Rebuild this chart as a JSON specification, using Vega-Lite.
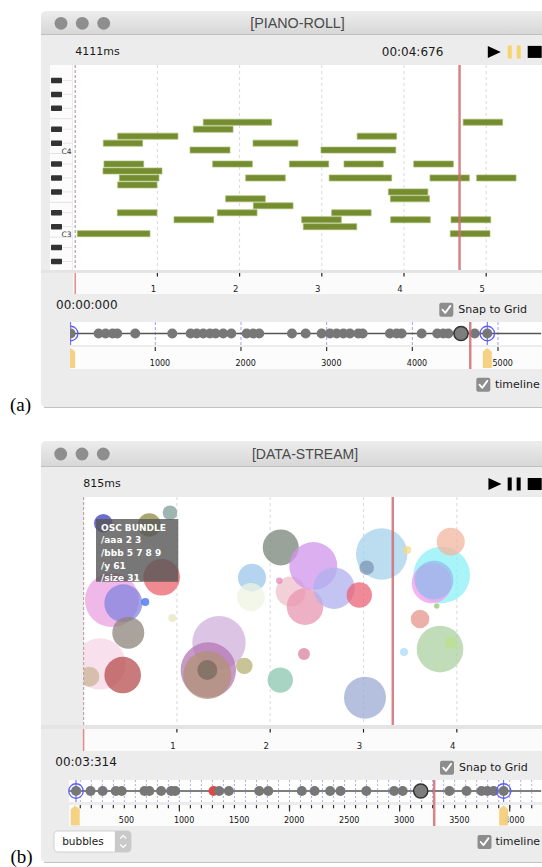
{
"$schema":"https://vega.github.io/schema/vega-lite/v6.json",
"background":"white",
"padding":{"top":11,"left":0,"right":0,"bottom":0},
"autosize":{"type":"pad"},
"spacing":0,
"bounds":"flush",
"config":{"view":{"stroke":null},"font":"DejaVu Sans","concat":{"spacing":0}},
"datasets":{
"notes":[{"p":64,"s":1.558,"e":2.39},{"p":64,"s":4.72,"e":5.2},{"p":63,"s":1.437,"e":1.92},{"p":62,"s":0.517,"e":1.25},{"p":62,"s":3.43,"e":3.91},{"p":61,"s":0.342,"e":0.82},{"p":61,"s":2.163,"e":2.71},{"p":60,"s":1.397,"e":1.883},{"p":60,"s":2.99,"e":3.9},{"p":58,"s":0.35,"e":0.833},{"p":58,"s":1.672,"e":2.155},{"p":58,"s":2.605,"e":3.084},{"p":58,"s":3.27,"e":3.748},{"p":58,"s":4.118,"e":4.6},{"p":57,"s":0.338,"e":1.056},{"p":56,"s":0.537,"e":1.019},{"p":56,"s":2.074,"e":2.556},{"p":56,"s":3.09,"e":3.85},{"p":56,"s":4.316,"e":4.795},{"p":56,"s":4.884,"e":5.363},{"p":55,"s":0.517,"e":0.995},{"p":54,"s":3.81,"e":4.29},{"p":53,"s":1.83,"e":2.313},{"p":53,"s":3.834,"e":4.31},{"p":52,"s":2.167,"e":2.65},{"p":51,"s":0.513,"e":0.995},{"p":51,"s":1.729,"e":2.212},{"p":51,"s":3.12,"e":3.6},{"p":50,"s":1.202,"e":1.685},{"p":50,"s":2.755,"e":3.237},{"p":50,"s":3.838,"e":4.32},{"p":50,"s":4.572,"e":5.055},{"p":49,"s":2.775,"e":3.425},{"p":48,"s":0.026,"e":0.91},{"p":48,"s":4.563,"e":5.046}],
"keys":[{"p":44},{"p":46},{"p":49},{"p":51},{"p":54},{"p":56},{"p":58},{"p":61},{"p":63},{"p":66},{"p":68},{"p":70}],
"sep":[{"p":47.5},{"p":52.5},{"p":59.5},{"p":64.5}],
"clab":[{"n":"C4","p":60},{"n":"C3","p":48}],
"beatsA":[{"b":1},{"b":2},{"b":3},{"b":4},{"b":5}],
"beatsB":[{"b":1},{"b":2},{"b":3},{"b":4}],
"gridA":[{"ms":1000},{"ms":2000},{"ms":3000},{"ms":4000},{"ms":5000}],
"gridB":[{"ms":100},{"ms":200},{"ms":300},{"ms":400},{"ms":500},{"ms":600},{"ms":700},{"ms":800},{"ms":900},{"ms":1000},{"ms":1100},{"ms":1200},{"ms":1300},{"ms":1400},{"ms":1500},{"ms":1600},{"ms":1700},{"ms":1800},{"ms":1900},{"ms":2000},{"ms":2100},{"ms":2200},{"ms":2300},{"ms":2400},{"ms":2500},{"ms":2600},{"ms":2700},{"ms":2800},{"ms":2900},{"ms":3000},{"ms":3100},{"ms":3200},{"ms":3300},{"ms":3400},{"ms":3500},{"ms":3600},{"ms":3700},{"ms":3800},{"ms":3900},{"ms":4000},{"ms":4100},{"ms":4200}],
"majB":[{"ms":1000},{"ms":2000},{"ms":3000},{"ms":4000}],
"labB":[{"ms":500},{"ms":1000},{"ms":1500},{"ms":2000},{"ms":2500},{"ms":3000},{"ms":3500},{"ms":4000}],
"evA":[{"ms":12},{"ms":338},{"ms":420},{"ms":502},{"ms":556},{"ms":766},{"ms":1198},{"ms":1412},{"ms":1483},{"ms":1560},{"ms":1638},{"ms":1704},{"ms":1793},{"ms":1887},{"ms":2066},{"ms":2143},{"ms":2213},{"ms":2595},{"ms":2755},{"ms":2941},{"ms":3039},{"ms":3117},{"ms":3195},{"ms":3272},{"ms":3369},{"ms":3420},{"ms":3739},{"ms":3817},{"ms":3875},{"ms":4109},{"ms":4291},{"ms":4361},{"ms":4420},{"ms":4728},{"ms":4875}],
"evB":[{"ms":61},{"ms":193},{"ms":303},{"ms":422},{"ms":476},{"ms":683},{"ms":727},{"ms":834},{"ms":925},{"ms":962},{"ms":1360},{"ms":1449},{"ms":1725},{"ms":1807},{"ms":2112},{"ms":2228},{"ms":2369},{"ms":2463},{"ms":2698},{"ms":2950},{"ms":3028},{"ms":3452},{"ms":3608},{"ms":3744},{"ms":3797},{"ms":3854},{"ms":3945}],
"cursA":[{"ms":12},{"ms":4875}],
"cursB":[{"ms":61},{"ms":3945}],
"flagsA":[{"ms":12},{"ms":4875}],
"flagsB":[{"ms":54},{"ms":3945}],
"bubbles":[{"id":"b10","t":0.176,"v":26.8,"size":51.4},{"id":"b11","t":0.061,"v":21.2,"size":20},{"id":"b12","t":0.419,"v":21.9,"size":36.6},{"id":"b5","t":0.304,"v":54.8,"size":54},{"id":"b6","t":0.426,"v":53.4,"size":38},{"id":"b7","t":0.661,"v":53.9,"size":8},{"id":"b8","t":0.479,"v":40.5,"size":32},{"id":"b9","t":0.951,"v":46.9,"size":8},{"id":"b1","t":0.211,"v":88.5,"size":18.6},{"id":"b2","t":0.704,"v":87.7,"size":23.4},{"id":"b3","t":0.926,"v":93.1,"size":14.6},{"id":"b4","t":0.837,"v":64.8,"size":36.6},{"id":"b13","t":1.451,"v":36.1,"size":53.4},{"id":"b14","t":1.337,"v":24.1,"size":55.4},{"id":"b15","t":1.326,"v":21.9,"size":48},{"id":"b16","t":1.326,"v":24.1,"size":20},{"id":"b17","t":1.722,"v":25.9,"size":16.6},{"id":"b18","t":2.108,"v":19.7,"size":25.4},{"id":"b19","t":2.362,"v":31.1,"size":12},{"id":"b20","t":3.016,"v":12.0,"size":42},{"id":"b23","t":1.805,"v":64.6,"size":28},{"id":"b24","t":1.794,"v":56.1,"size":28},{"id":"b22","t":2.22,"v":58.5,"size":30},{"id":"b21","t":2.373,"v":51.9,"size":36.6},{"id":"b28","t":2.113,"v":77.9,"size":36},{"id":"b29","t":2.098,"v":63.3,"size":6.6},{"id":"b27","t":2.462,"v":69.7,"size":48},{"id":"b26","t":2.684,"v":60.0,"size":41.4},{"id":"b25","t":2.955,"v":57.0,"size":25.4},{"id":"b30","t":3.195,"v":75.0,"size":51.4},{"id":"b31","t":3.034,"v":69.0,"size":14.6},{"id":"b32","t":3.469,"v":76.8,"size":8},{"id":"b34","t":3.838,"v":65.8,"size":56.6},{"id":"b35","t":3.731,"v":62.2,"size":40},{"id":"b36","t":3.756,"v":63.6,"size":38.6},{"id":"b33","t":3.935,"v":80.4,"size":28},{"id":"b37","t":3.785,"v":52.2,"size":5.4},{"id":"b38","t":3.606,"v":46.5,"size":18.6},{"id":"b39","t":3.82,"v":33.3,"size":46.6},{"id":"b40","t":3.935,"v":36.1,"size":12},{"id":"b41","t":3.434,"v":32.0,"size":8}]
},
"vconcat":[
{"width":542,"height":23,"data":{"values":[{}]},"layer":[
{"mark":{"type":"rect","cornerRadiusTopLeft":5,"color":{"gradient":"linear","x1":0,"y1":0,"x2":0,"y2":1,"stops":[{"offset":0,"color":"#ededed"},{"offset":1,"color":"#d7d7d7"}]}},"encoding":{"x":{"datum":-0.41606,"type":"quantitative","scale":{"domain":[-0.914842,5.678832],"nice":false,"zero":false},"axis":null},"x2":{"datum":5.678832}}},
{"mark":{"type":"point","shape":"circle","filled":true,"size":165,"color":"#8e8e8e","opacity":1,"yOffset":0.8},"encoding":{"x":{"datum":-0.17275,"type":"quantitative","scale":{"domain":[-0.914842,5.678832],"nice":false,"zero":false},"axis":null}}},
{"mark":{"type":"point","shape":"circle","filled":true,"size":165,"color":"#8e8e8e","opacity":1,"yOffset":0.8},"encoding":{"x":{"datum":0.08637,"type":"quantitative","scale":{"domain":[-0.914842,5.678832],"nice":false,"zero":false},"axis":null}}},
{"mark":{"type":"point","shape":"circle","filled":true,"size":165,"color":"#8e8e8e","opacity":1,"yOffset":0.8},"encoding":{"x":{"datum":0.34672,"type":"quantitative","scale":{"domain":[-0.914842,5.678832],"nice":false,"zero":false},"axis":null}}},
{"mark":{"type":"text","text":"[PIANO-ROLL]","font":"Liberation Sans","fontSize":14.3,"color":"#4a4a4a","align":"center","baseline":"middle","dy":1.5},"encoding":{"x":{"datum":2.70438,"type":"quantitative","scale":{"domain":[-0.914842,5.678832],"nice":false,"zero":false},"axis":null}}}
]},
{"width":542,"height":1,"data":{"values":[{}]},"mark":{"type":"rect","color":"#bfbfbf"},"encoding":{"x":{"datum":-0.41606,"type":"quantitative","scale":{"domain":[-0.914842,5.678832],"nice":false,"zero":false},"axis":null},"x2":{"datum":5.678832}}},
{"width":542,"height":30,"data":{"values":[{}]},"layer":[
{"mark":{"type":"rect","color":"#ececec"},"encoding":{"x":{"datum":-0.41606,"type":"quantitative","scale":{"domain":[-0.914842,5.678832],"nice":false,"zero":false},"axis":null},"x2":{"datum":5.678832}}},
{"mark":{"type":"text","text":"4111ms","align":"left","baseline":"middle","fontSize":11,"color":"#1a1a1a","dy":2.3},"encoding":{"x":{"datum":0,"type":"quantitative","scale":{"domain":[-0.914842,5.678832],"nice":false,"zero":false},"axis":null}}},
{"mark":{"type":"text","text":"00:04:676","align":"right","baseline":"middle","fontSize":12,"color":"#1a1a1a","dy":1.7},"encoding":{"x":{"datum":4.4781,"type":"quantitative","scale":{"domain":[-0.914842,5.678832],"nice":false,"zero":false},"axis":null}}},
{"mark":{"type":"point","shape":"M -1 -0.92 L 1 0 L -1 0.92 Z","size":169,"filled":true,"color":"#000000","opacity":1,"yOffset":1.9},"encoding":{"x":{"datum":5.0985,"type":"quantitative","scale":{"domain":[-0.914842,5.678832],"nice":false,"zero":false},"axis":null}}},
{"mark":{"type":"point","shape":"M -1 -1 H -0.38 V 1 H -1 Z M 0.38 -1 H 1 V 1 H 0.38 Z","size":169,"filled":true,"color":"#f8d36a","opacity":1,"yOffset":2},"encoding":{"x":{"datum":5.3406,"type":"quantitative","scale":{"domain":[-0.914842,5.678832],"nice":false,"zero":false},"axis":null}}},
{"mark":{"type":"point","shape":"M -1 -0.86 H 1 V 0.86 H -1 Z","size":196,"filled":true,"color":"#000000","opacity":1,"yOffset":1.9},"encoding":{"x":{"datum":5.59,"type":"quantitative","scale":{"domain":[-0.914842,5.678832],"nice":false,"zero":false},"axis":null}}}
]},
{"width":542,"height":205,"data":{"values":[{}]},"layer":[
{"mark":{"type":"rect","color":"#ececec"},"encoding":{"x":{"datum":-0.41606,"type":"quantitative","scale":{"domain":[-0.914842,5.678832],"nice":false,"zero":false},"axis":null},"x2":{"datum":5.678832}}},
{"mark":{"type":"rect","color":"#fcfcfc"},"encoding":{"x":{"datum":-0.30657,"type":"quantitative","scale":{"domain":[-0.914842,5.678832],"nice":false,"zero":false},"axis":null},"x2":{"datum":-0.03893}}},
{"data":{"name":"sep"},"mark":{"type":"rule","color":"#e2e2e2","strokeWidth":1},"encoding":{"x":{"datum":-0.30657,"type":"quantitative","scale":{"domain":[-0.914842,5.678832],"nice":false,"zero":false},"axis":null},"x2":{"datum":-0.03893},"y":{"field":"p","type":"quantitative","scale":{"domain":[43.5,71.5],"nice":false,"zero":false},"axis":null}}},
{"data":{"name":"keys"},"mark":{"type":"rule","color":"#e6e6e6","strokeWidth":1},"encoding":{"x":{"datum":-0.16058,"type":"quantitative","scale":{"domain":[-0.914842,5.678832],"nice":false,"zero":false},"axis":null},"x2":{"datum":-0.03893},"y":{"field":"p","type":"quantitative","scale":{"domain":[43.5,71.5],"nice":false,"zero":false},"axis":null}}},
{"data":{"name":"keys"},"mark":{"type":"bar","orient":"horizontal","height":5.5,"color":"#333333","cornerRadius":1},"encoding":{"x":{"datum":-0.2944,"type":"quantitative","scale":{"domain":[-0.914842,5.678832],"nice":false,"zero":false},"axis":null},"x2":{"datum":-0.16058},"y":{"field":"p","type":"quantitative","scale":{"domain":[43.5,71.5],"nice":false,"zero":false},"axis":null}}},
{"mark":{"type":"rect","color":"#ffffff"},"encoding":{"x":{"datum":-0.02676,"type":"quantitative","scale":{"domain":[-0.914842,5.678832],"nice":false,"zero":false},"axis":null},"x2":{"datum":5.678832}}},
{"data":{"name":"beatsA"},"mark":{"type":"rule","color":"#d9d9d9","strokeDash":[3,3],"strokeWidth":1},"encoding":{"x":{"field":"b","type":"quantitative","scale":{"domain":[-0.914842,5.678832],"nice":false,"zero":false},"axis":null}}},
{"mark":{"type":"rule","color":"#b89ca2","strokeDash":[3,2],"strokeWidth":1.2},"encoding":{"x":{"datum":0,"type":"quantitative","scale":{"domain":[-0.914842,5.678832],"nice":false,"zero":false},"axis":null}}},
{"data":{"name":"notes"},"mark":{"type":"bar","orient":"horizontal","height":6,"color":"#758c31","stroke":"#a3ba6a","strokeWidth":0.7},"encoding":{"x":{"field":"s","type":"quantitative","scale":{"domain":[-0.914842,5.678832],"nice":false,"zero":false},"axis":null},"x2":{"field":"e"},"y":{"field":"p","type":"quantitative","scale":{"domain":[43.5,71.5],"nice":false,"zero":false},"axis":null}}},
{"mark":{"type":"rule","color":"#cf6e73","strokeWidth":2.5,"opacity":0.85},"encoding":{"x":{"datum":4.676,"type":"quantitative","scale":{"domain":[-0.914842,5.678832],"nice":false,"zero":false},"axis":null}}},
{"data":{"name":"clab"},"mark":{"type":"text","align":"right","baseline":"middle","fontSize":7.5,"color":"#333333","dy":1.5},"encoding":{"text":{"field":"n"},"x":{"datum":-0.04501,"type":"quantitative","scale":{"domain":[-0.914842,5.678832],"nice":false,"zero":false},"axis":null},"y":{"field":"p","type":"quantitative","scale":{"domain":[43.5,71.5],"nice":false,"zero":false},"axis":null}}}
]},
{"width":542,"height":3,"data":{"values":[{}]},"mark":{"type":"rect","color":"#e4e4e4"},"encoding":{"x":{"datum":-0.41606,"type":"quantitative","scale":{"domain":[-0.914842,5.678832],"nice":false,"zero":false},"axis":null},"x2":{"datum":5.678832}}},
{"width":542,"height":21,"data":{"values":[{}]},"layer":[
{"mark":{"type":"rect","color":"#ececec"},"encoding":{"x":{"datum":-0.41606,"type":"quantitative","scale":{"domain":[-0.914842,5.678832],"nice":false,"zero":false},"axis":null},"x2":{"datum":5.678832}}},
{"mark":{"type":"rect","color":"#fbfbfb"},"encoding":{"x":{"datum":-0.02676,"type":"quantitative","scale":{"domain":[-0.914842,5.678832],"nice":false,"zero":false},"axis":null},"x2":{"datum":5.678832}}},
{"mark":{"type":"rule","color":"#e28c8c","strokeWidth":1.5},"encoding":{"x":{"datum":0,"type":"quantitative","scale":{"domain":[-0.914842,5.678832],"nice":false,"zero":false},"axis":null}}},
{"data":{"name":"beatsA"},"mark":{"type":"tick","size":3.5,"thickness":1.2,"color":"#222222","opacity":1,"yOffset":-8.75},"encoding":{"x":{"field":"b","type":"quantitative","scale":{"domain":[-0.914842,5.678832],"nice":false,"zero":false},"axis":null}}},
{"data":{"name":"beatsA"},"mark":{"type":"text","fontSize":8.5,"color":"#222222","align":"center","baseline":"middle","dx":-4,"dy":5.5},"encoding":{"x":{"field":"b","type":"quantitative","scale":{"domain":[-0.914842,5.678832],"nice":false,"zero":false},"axis":null},"text":{"field":"b","type":"quantitative","format":"d"}}}
]},
{"width":542,"height":28,"data":{"values":[{}]},"layer":[
{"mark":{"type":"rect","color":"#ececec"},"encoding":{"x":{"datum":-0.41606,"type":"quantitative","scale":{"domain":[-0.914842,5.678832],"nice":false,"zero":false},"axis":null},"x2":{"datum":5.678832}}},
{"mark":{"type":"text","text":"00:00:000","align":"left","baseline":"middle","fontSize":12,"color":"#1a1a1a","dy":-3},"encoding":{"x":{"datum":-0.2336,"type":"quantitative","scale":{"domain":[-0.914842,5.678832],"nice":false,"zero":false},"axis":null}}},
{"mark":{"type":"point","shape":"M -0.72 -1 H 0.72 Q 1 -1 1 -0.72 V 0.72 Q 1 1 0.72 1 H -0.72 Q -1 1 -1 0.72 V -0.72 Q -1 -1 -0.72 -1 Z","size":196,"filled":true,"color":"#8d8d8d","opacity":1,"yOffset":1.7},"encoding":{"x":{"datum":4.5146,"type":"quantitative","scale":{"domain":[-0.914842,5.678832],"nice":false,"zero":false},"axis":null}}},
{"mark":{"type":"point","shape":"M -0.55 0 L -0.15 0.45 L 0.58 -0.55","size":196,"filled":false,"color":"#ffffff","strokeWidth":1.8,"strokeCap":"round","strokeJoin":"round","opacity":1,"yOffset":1.7},"encoding":{"x":{"datum":4.5146,"type":"quantitative","scale":{"domain":[-0.914842,5.678832],"nice":false,"zero":false},"axis":null}}},
{"mark":{"type":"text","text":"Snap to Grid","align":"left","baseline":"middle","fontSize":11,"color":"#1a1a1a","dy":1.7},"encoding":{"x":{"datum":4.6606,"type":"quantitative","scale":{"domain":[-0.914842,5.678832],"nice":false,"zero":false},"axis":null}}}
]},
{"width":542,"height":23,"data":{"values":[{}]},"layer":[
{"mark":{"type":"rect","color":"#ececec"},"encoding":{"x":{"datum":-334.1,"type":"quantitative","scale":{"domain":[-812.66,5513.6],"nice":false,"zero":false},"axis":null},"x2":{"datum":5513.6}}},
{"mark":{"type":"rect","color":"#ffffff"},"encoding":{"x":{"datum":-15,"type":"quantitative","scale":{"domain":[-812.66,5513.6],"nice":false,"zero":false},"axis":null},"x2":{"datum":5513.6}}},
{"data":{"name":"gridA"},"mark":{"type":"rule","color":"#a0a0ee","strokeDash":[3,2],"strokeWidth":1},"encoding":{"x":{"field":"ms","type":"quantitative","scale":{"domain":[-812.66,5513.6],"nice":false,"zero":false},"axis":null}}},
{"data":{"name":"cursA"},"mark":{"type":"rule","color":"#5b5bff","strokeWidth":1},"encoding":{"x":{"field":"ms","type":"quantitative","scale":{"domain":[-812.66,5513.6],"nice":false,"zero":false},"axis":null}}},
{"mark":{"type":"rule","color":"#555555","strokeWidth":1.5},"encoding":{"x":{"datum":12,"type":"quantitative","scale":{"domain":[-812.66,5513.6],"nice":false,"zero":false},"axis":null},"x2":{"datum":5504.2}}},
{"data":{"name":"evA"},"mark":{"type":"point","shape":"circle","filled":true,"size":100,"color":"#777777","opacity":1},"encoding":{"x":{"field":"ms","type":"quantitative","scale":{"domain":[-812.66,5513.6],"nice":false,"zero":false},"axis":null}}},
{"mark":{"type":"point","shape":"circle","filled":true,"fill":"#7d7d7d","stroke":"#333333","strokeWidth":1.5,"size":200,"opacity":1},"encoding":{"x":{"datum":4568,"type":"quantitative","scale":{"domain":[-812.66,5513.6],"nice":false,"zero":false},"axis":null}}},
{"data":{"name":"cursA"},"mark":{"type":"point","shape":"circle","filled":false,"color":"#5b5bff","strokeWidth":1.3,"size":210,"opacity":1},"encoding":{"x":{"field":"ms","type":"quantitative","scale":{"domain":[-812.66,5513.6],"nice":false,"zero":false},"axis":null}}},
{"mark":{"type":"rule","color":"#cf6e73","strokeWidth":2.5,"opacity":0.85},"encoding":{"x":{"datum":4676,"type":"quantitative","scale":{"domain":[-812.66,5513.6],"nice":false,"zero":false},"axis":null}}},
{"mark":{"type":"rect","color":"#ececec"},"encoding":{"x":{"datum":-334.1,"type":"quantitative","scale":{"domain":[-812.66,5513.6],"nice":false,"zero":false},"axis":null},"x2":{"datum":5}}}
]},
{"width":542,"height":2,"data":{"values":[{}]},"layer":[
{"mark":{"type":"rect","color":"#ececec"},"encoding":{"x":{"datum":-334.1,"type":"quantitative","scale":{"domain":[-812.66,5513.6],"nice":false,"zero":false},"axis":null},"x2":{"datum":5513.6}}},
{"mark":{"type":"rule","color":"#cf6e73","strokeWidth":2.5,"opacity":0.85},"encoding":{"x":{"datum":4676,"type":"quantitative","scale":{"domain":[-812.66,5513.6],"nice":false,"zero":false},"axis":null}}}
]},
{"width":542,"height":22,"data":{"values":[{}]},"layer":[
{"mark":{"type":"rect","color":"#ececec"},"encoding":{"x":{"datum":-334.1,"type":"quantitative","scale":{"domain":[-812.66,5513.6],"nice":false,"zero":false},"axis":null},"x2":{"datum":5513.6}}},
{"mark":{"type":"rect","color":"#fcfcfc"},"encoding":{"x":{"datum":-15,"type":"quantitative","scale":{"domain":[-812.66,5513.6],"nice":false,"zero":false},"axis":null},"x2":{"datum":5513.6}}},
{"data":{"name":"gridA"},"mark":{"type":"tick","size":4,"thickness":1.2,"color":"#333333","opacity":1,"yOffset":-9},"encoding":{"x":{"field":"ms","type":"quantitative","scale":{"domain":[-812.66,5513.6],"nice":false,"zero":false},"axis":null}}},
{"data":{"name":"gridA"},"mark":{"type":"text","fontSize":8,"color":"#111111","align":"left","baseline":"middle","dx":-5.5,"dy":6},"encoding":{"x":{"field":"ms","type":"quantitative","scale":{"domain":[-812.66,5513.6],"nice":false,"zero":false},"axis":null},"text":{"field":"ms","type":"quantitative","format":"d"}}},
{"mark":{"type":"rule","color":"#cf6e73","strokeWidth":2.5,"opacity":0.85},"encoding":{"x":{"datum":4676,"type":"quantitative","scale":{"domain":[-812.66,5513.6],"nice":false,"zero":false},"axis":null}}},
{"data":{"name":"flagsA"},"mark":{"type":"point","shape":"M -0.45 -0.62 L 0 -1 L 0.45 -0.62 L 0.45 1 L -0.45 1 Z","size":400,"filled":true,"color":"#f4d07c","opacity":0.95},"encoding":{"x":{"field":"ms","type":"quantitative","scale":{"domain":[-812.66,5513.6],"nice":false,"zero":false},"axis":null}}},
{"mark":{"type":"rect","color":"#ececec"},"encoding":{"x":{"datum":-334.1,"type":"quantitative","scale":{"domain":[-812.66,5513.6],"nice":false,"zero":false},"axis":null},"x2":{"datum":5}}}
]},
{"width":542,"height":38,"data":{"values":[{}]},"layer":[
{"mark":{"type":"rect","color":"#ececec","cornerRadiusBottomLeft":5},"encoding":{"x":{"datum":-0.41606,"type":"quantitative","scale":{"domain":[-0.914842,5.678832],"nice":false,"zero":false},"axis":null},"x2":{"datum":5.678832}}},
{"mark":{"type":"point","shape":"M -0.72 -1 H 0.72 Q 1 -1 1 -0.72 V 0.72 Q 1 1 0.72 1 H -0.72 Q -1 1 -1 0.72 V -0.72 Q -1 -1 -0.72 -1 Z","size":196,"filled":true,"color":"#8d8d8d","opacity":1,"yOffset":-3.3},"encoding":{"x":{"datum":4.9647,"type":"quantitative","scale":{"domain":[-0.914842,5.678832],"nice":false,"zero":false},"axis":null}}},
{"mark":{"type":"point","shape":"M -0.55 0 L -0.15 0.45 L 0.58 -0.55","size":196,"filled":false,"color":"#ffffff","strokeWidth":1.8,"strokeCap":"round","strokeJoin":"round","opacity":1,"yOffset":-3.3},"encoding":{"x":{"datum":4.9647,"type":"quantitative","scale":{"domain":[-0.914842,5.678832],"nice":false,"zero":false},"axis":null}}},
{"mark":{"type":"text","text":"timeline","align":"left","baseline":"middle","fontSize":11,"color":"#1a1a1a","dy":-3.3},"encoding":{"x":{"datum":5.1071,"type":"quantitative","scale":{"domain":[-0.914842,5.678832],"nice":false,"zero":false},"axis":null}}}
]},
{"width":542,"height":1,"data":{"values":[{}]},"mark":{"type":"rect","color":"#c2c2c2"},"encoding":{"x":{"datum":-0.37956,"type":"quantitative","scale":{"domain":[-0.914842,5.678832],"nice":false,"zero":false},"axis":null},"x2":{"datum":5.678832}}},
{"width":542,"height":33,"data":{"values":[{}]},"mark":{"type":"text","text":"(a)","align":"left","baseline":"middle","font":"Liberation Serif","fontSize":19,"color":"#000000","dy":-19.5},"encoding":{"x":{"datum":-0.79319,"type":"quantitative","scale":{"domain":[-0.914842,5.678832],"nice":false,"zero":false},"axis":null}}},
{"width":542,"height":25,"data":{"values":[{}]},"layer":[
{"mark":{"type":"rect","cornerRadiusTopLeft":5,"color":{"gradient":"linear","x1":0,"y1":0,"x2":0,"y2":1,"stops":[{"offset":0,"color":"#ededed"},{"offset":1,"color":"#d7d7d7"}]}},"encoding":{"x":{"datum":-0.45659,"type":"quantitative","scale":{"domain":[-0.896034,4.913183],"nice":false,"zero":false},"axis":null},"x2":{"datum":4.913183}}},
{"mark":{"type":"point","shape":"circle","filled":true,"size":165,"color":"#8e8e8e","opacity":1,"yOffset":0.5},"encoding":{"x":{"datum":-0.2454,"type":"quantitative","scale":{"domain":[-0.896034,4.913183],"nice":false,"zero":false},"axis":null}}},
{"mark":{"type":"point","shape":"circle","filled":true,"size":165,"color":"#8e8e8e","opacity":1,"yOffset":0.5},"encoding":{"x":{"datum":-0.0171,"type":"quantitative","scale":{"domain":[-0.896034,4.913183],"nice":false,"zero":false},"axis":null}}},
{"mark":{"type":"point","shape":"circle","filled":true,"size":165,"color":"#8e8e8e","opacity":1,"yOffset":0.5},"encoding":{"x":{"datum":0.2111,"type":"quantitative","scale":{"domain":[-0.896034,4.913183],"nice":false,"zero":false},"axis":null}}},
{"mark":{"type":"text","text":"[DATA-STREAM]","font":"Liberation Sans","fontSize":14,"color":"#4a4a4a","align":"center","baseline":"middle","dy":1.5},"encoding":{"x":{"datum":2.373,"type":"quantitative","scale":{"domain":[-0.896034,4.913183],"nice":false,"zero":false},"axis":null}}}
]},
{"width":542,"height":1,"data":{"values":[{}]},"mark":{"type":"rect","color":"#bfbfbf"},"encoding":{"x":{"datum":-0.45659,"type":"quantitative","scale":{"domain":[-0.896034,4.913183],"nice":false,"zero":false},"axis":null},"x2":{"datum":4.913183}}},
{"width":542,"height":30,"data":{"values":[{}]},"layer":[
{"mark":{"type":"rect","color":"#ececec"},"encoding":{"x":{"datum":-0.45659,"type":"quantitative","scale":{"domain":[-0.896034,4.913183],"nice":false,"zero":false},"axis":null},"x2":{"datum":4.913183}}},
{"mark":{"type":"text","text":"815ms","align":"left","baseline":"middle","fontSize":11,"color":"#1a1a1a","dy":2},"encoding":{"x":{"datum":-0.003,"type":"quantitative","scale":{"domain":[-0.896034,4.913183],"nice":false,"zero":false},"axis":null}}},
{"mark":{"type":"point","shape":"M -1 -0.92 L 1 0 L -1 0.92 Z","size":169,"filled":true,"color":"#000000","opacity":1,"yOffset":2},"encoding":{"x":{"datum":4.409,"type":"quantitative","scale":{"domain":[-0.896034,4.913183],"nice":false,"zero":false},"axis":null}}},
{"mark":{"type":"point","shape":"M -1 -1 H -0.38 V 1 H -1 Z M 0.38 -1 H 1 V 1 H 0.38 Z","size":169,"filled":true,"color":"#000000","opacity":1,"yOffset":2},"encoding":{"x":{"datum":4.615,"type":"quantitative","scale":{"domain":[-0.896034,4.913183],"nice":false,"zero":false},"axis":null}}},
{"mark":{"type":"point","shape":"M -1 -0.86 H 1 V 0.86 H -1 Z","size":196,"filled":true,"color":"#000000","opacity":1,"yOffset":2},"encoding":{"x":{"datum":4.835,"type":"quantitative","scale":{"domain":[-0.896034,4.913183],"nice":false,"zero":false},"axis":null}}}
]},
{"width":542,"height":228,"data":{"values":[{}]},"layer":[
{"mark":{"type":"rect","color":"#ececec"},"encoding":{"x":{"datum":-0.45659,"type":"quantitative","scale":{"domain":[-0.896034,4.913183],"nice":false,"zero":false},"axis":null},"x2":{"datum":4.913183}}},
{"mark":{"type":"rect","color":"#ffffff"},"encoding":{"x":{"datum":0,"type":"quantitative","scale":{"domain":[-0.896034,4.913183],"nice":false,"zero":false},"axis":null},"x2":{"datum":4.913183}}},
{"data":{"name":"beatsB"},"mark":{"type":"rule","color":"#d9d9d9","strokeDash":[3,3],"strokeWidth":1},"encoding":{"x":{"field":"b","type":"quantitative","scale":{"domain":[-0.896034,4.913183],"nice":false,"zero":false},"axis":null}}},
{"data":{"name":"bubbles"},"mark":{"type":"circle","opacity":0.75},"encoding":{"x":{"field":"t","type":"quantitative","scale":{"domain":[-0.896034,4.913183],"nice":false,"zero":false},"axis":null},"y":{"field":"v","type":"quantitative","scale":{"domain":[0,100],"nice":false,"zero":false},"axis":null},"size":{"field":"size","type":"quantitative","scale":{"type":"pow","exponent":2,"domain":[0,60],"range":[0,3600]},"legend":null},"color":{"field":"id","type":"nominal","legend":null,"scale":{"domain":["b1","b2","b3","b4","b5","b6","b7","b8","b9","b10","b11","b12","b13","b14","b15","b16","b17","b18","b19","b20","b21","b22","b23","b24","b25","b26","b27","b28","b29","b30","b31","b32","b33","b34","b35","b36","b37","b38","b39","b40","b41"],"range":["#3c3cbb","#8b8b40","#7f9c96","#e8636b","#eba0e0","#8484e0","#3f6af2","#8e847b","#e6e4c3","#f6d6e6","#cbb696","#b74e4e","#d0b0db","#b676b6","#b09376","#776a5d","#b6b076","#8bc6b0","#db809b","#9babd3","#e896b0","#eec0cb","#9bc6eb","#eef4e3","#eb6376","#b0b0ee","#d096eb","#788478","#e08bb6","#a6d0eb","#7b96b6","#f6db80","#f3b6a0","#8bf0f6","#f09bee","#96bbeb","#8bcb6b","#e6968b","#abd0a0","#bbe38b","#abdbf6"]}}}},
{"mark":{"type":"rect","color":"#ececec"},"encoding":{"x":{"datum":-0.45659,"type":"quantitative","scale":{"domain":[-0.896034,4.913183],"nice":false,"zero":false},"axis":null},"x2":{"datum":0}}},
{"mark":{"type":"rule","color":"#c2a3ab","strokeDash":[3,2],"strokeWidth":1.2},"encoding":{"x":{"datum":0,"type":"quantitative","scale":{"domain":[-0.896034,4.913183],"nice":false,"zero":false},"axis":null}}},
{"mark":{"type":"rule","color":"#cf6e73","strokeWidth":2.5,"opacity":0.85},"encoding":{"x":{"datum":3.314,"type":"quantitative","scale":{"domain":[-0.896034,4.913183],"nice":false,"zero":false},"axis":null}}},
{"mark":{"type":"rect","color":"#555555","opacity":0.8},"encoding":{"x":{"datum":0.1329,"type":"quantitative","scale":{"domain":[-0.896034,4.913183],"nice":false,"zero":false},"axis":null},"x2":{"datum":1.015},"y":{"datum":90.35,"type":"quantitative","scale":{"domain":[0,100],"nice":false,"zero":false},"axis":null},"y2":{"datum":62.85}}},
{"mark":{"type":"text","text":["OSC BUNDLE","/aaa 2 3","/bbb 5 7 8 9","/y 61","/size 31"],"align":"left","baseline":"top","lineHeight":12.7,"fontSize":9,"fontWeight":"bold","color":"#ffffff"},"encoding":{"x":{"datum":0.1865,"type":"quantitative","scale":{"domain":[-0.896034,4.913183],"nice":false,"zero":false},"axis":null},"y":{"datum":88.3,"type":"quantitative","scale":{"domain":[0,100],"nice":false,"zero":false},"axis":null}}}
]},
{"width":542,"height":4,"data":{"values":[{}]},"mark":{"type":"rect","color":"#e4e4e4"},"encoding":{"x":{"datum":-0.45659,"type":"quantitative","scale":{"domain":[-0.896034,4.913183],"nice":false,"zero":false},"axis":null},"x2":{"datum":4.913183}}},
{"width":542,"height":22,"data":{"values":[{}]},"layer":[
{"mark":{"type":"rect","color":"#ececec"},"encoding":{"x":{"datum":-0.45659,"type":"quantitative","scale":{"domain":[-0.896034,4.913183],"nice":false,"zero":false},"axis":null},"x2":{"datum":4.913183}}},
{"mark":{"type":"rect","color":"#fbfbfb"},"encoding":{"x":{"datum":0,"type":"quantitative","scale":{"domain":[-0.896034,4.913183],"nice":false,"zero":false},"axis":null},"x2":{"datum":4.913183}}},
{"mark":{"type":"rule","color":"#e28c8c","strokeWidth":1.5},"encoding":{"x":{"datum":0,"type":"quantitative","scale":{"domain":[-0.896034,4.913183],"nice":false,"zero":false},"axis":null}}},
{"data":{"name":"beatsB"},"mark":{"type":"tick","size":3.5,"thickness":1.2,"color":"#222222","opacity":1,"yOffset":-9.25},"encoding":{"x":{"field":"b","type":"quantitative","scale":{"domain":[-0.896034,4.913183],"nice":false,"zero":false},"axis":null}}},
{"data":{"name":"beatsB"},"mark":{"type":"text","fontSize":8.5,"color":"#222222","align":"center","baseline":"middle","dx":-4,"dy":6},"encoding":{"x":{"field":"b","type":"quantitative","scale":{"domain":[-0.896034,4.913183],"nice":false,"zero":false},"axis":null},"text":{"field":"b","type":"quantitative","format":"d"}}}
]},
{"width":542,"height":29,"data":{"values":[{}]},"layer":[
{"mark":{"type":"rect","color":"#ececec"},"encoding":{"x":{"datum":-0.45659,"type":"quantitative","scale":{"domain":[-0.896034,4.913183],"nice":false,"zero":false},"axis":null},"x2":{"datum":4.913183}}},
{"mark":{"type":"text","text":"00:03:314","align":"left","baseline":"middle","fontSize":12,"color":"#1a1a1a","dy":-3.3},"encoding":{"x":{"datum":-0.3033,"type":"quantitative","scale":{"domain":[-0.896034,4.913183],"nice":false,"zero":false},"axis":null}}},
{"mark":{"type":"point","shape":"M -0.72 -1 H 0.72 Q 1 -1 1 -0.72 V 0.72 Q 1 1 0.72 1 H -0.72 Q -1 1 -1 0.72 V -0.72 Q -1 -1 -0.72 -1 Z","size":196,"filled":true,"color":"#8d8d8d","opacity":1,"yOffset":2.2},"encoding":{"x":{"datum":3.895,"type":"quantitative","scale":{"domain":[-0.896034,4.913183],"nice":false,"zero":false},"axis":null}}},
{"mark":{"type":"point","shape":"M -0.55 0 L -0.15 0.45 L 0.58 -0.55","size":196,"filled":false,"color":"#ffffff","strokeWidth":1.8,"strokeCap":"round","strokeJoin":"round","opacity":1,"yOffset":2.2},"encoding":{"x":{"datum":3.895,"type":"quantitative","scale":{"domain":[-0.896034,4.913183],"nice":false,"zero":false},"axis":null}}},
{"mark":{"type":"text","text":"Snap to Grid","align":"left","baseline":"middle","fontSize":11,"color":"#1a1a1a","dy":2.2},"encoding":{"x":{"datum":4.024,"type":"quantitative","scale":{"domain":[-0.896034,4.913183],"nice":false,"zero":false},"axis":null}}}
]},
{"width":542,"height":22,"data":{"values":[{}]},"layer":[
{"mark":{"type":"rect","color":"#ececec"},"encoding":{"x":{"datum":-257.04,"type":"quantitative","scale":{"domain":[-629.43,4293.37],"nice":false,"zero":false},"axis":null},"x2":{"datum":4293.37}}},
{"mark":{"type":"rect","color":"#ffffff"},"encoding":{"x":{"datum":-2,"type":"quantitative","scale":{"domain":[-629.43,4293.37],"nice":false,"zero":false},"axis":null},"x2":{"datum":4293.37}}},
{"data":{"name":"gridB"},"mark":{"type":"rule","color":"#aab0f0","strokeDash":[2,2],"strokeWidth":1},"encoding":{"x":{"field":"ms","type":"quantitative","scale":{"domain":[-629.43,4293.37],"nice":false,"zero":false},"axis":null}}},
{"data":{"name":"cursB"},"mark":{"type":"rule","color":"#5b5bff","strokeWidth":1},"encoding":{"x":{"field":"ms","type":"quantitative","scale":{"domain":[-629.43,4293.37],"nice":false,"zero":false},"axis":null}}},
{"mark":{"type":"rule","color":"#555555","strokeWidth":1.5},"encoding":{"x":{"datum":0,"type":"quantitative","scale":{"domain":[-629.43,4293.37],"nice":false,"zero":false},"axis":null},"x2":{"datum":4286.1}}},
{"mark":{"type":"point","shape":"circle","filled":true,"size":100,"color":"#e04848","opacity":1},"encoding":{"x":{"datum":1310,"type":"quantitative","scale":{"domain":[-629.43,4293.37],"nice":false,"zero":false},"axis":null}}},
{"data":{"name":"evB"},"mark":{"type":"point","shape":"circle","filled":true,"size":100,"color":"#777777","opacity":1},"encoding":{"x":{"field":"ms","type":"quantitative","scale":{"domain":[-629.43,4293.37],"nice":false,"zero":false},"axis":null}}},
{"mark":{"type":"point","shape":"circle","filled":true,"fill":"#7d7d7d","stroke":"#333333","strokeWidth":1.5,"size":200,"opacity":1},"encoding":{"x":{"datum":3192,"type":"quantitative","scale":{"domain":[-629.43,4293.37],"nice":false,"zero":false},"axis":null}}},
{"data":{"name":"cursB"},"mark":{"type":"point","shape":"circle","filled":false,"color":"#5b5bff","strokeWidth":1.3,"size":210,"opacity":1},"encoding":{"x":{"field":"ms","type":"quantitative","scale":{"domain":[-629.43,4293.37],"nice":false,"zero":false},"axis":null}}},
{"mark":{"type":"rule","color":"#cf6e73","strokeWidth":2.5,"opacity":0.85},"encoding":{"x":{"datum":3314,"type":"quantitative","scale":{"domain":[-629.43,4293.37],"nice":false,"zero":false},"axis":null}}}
]},
{"width":542,"height":3,"data":{"values":[{}]},"layer":[
{"mark":{"type":"rect","color":"#ececec"},"encoding":{"x":{"datum":-257.04,"type":"quantitative","scale":{"domain":[-629.43,4293.37],"nice":false,"zero":false},"axis":null},"x2":{"datum":4293.37}}},
{"mark":{"type":"rule","color":"#cf6e73","strokeWidth":2.5,"opacity":0.85},"encoding":{"x":{"datum":3314,"type":"quantitative","scale":{"domain":[-629.43,4293.37],"nice":false,"zero":false},"axis":null}}}
]},
{"width":542,"height":21,"data":{"values":[{}]},"layer":[
{"mark":{"type":"rect","color":"#ececec"},"encoding":{"x":{"datum":-257.04,"type":"quantitative","scale":{"domain":[-629.43,4293.37],"nice":false,"zero":false},"axis":null},"x2":{"datum":4293.37}}},
{"mark":{"type":"rect","color":"#fcfcfc"},"encoding":{"x":{"datum":-2,"type":"quantitative","scale":{"domain":[-629.43,4293.37],"nice":false,"zero":false},"axis":null},"x2":{"datum":4293.37}}},
{"data":{"name":"gridB"},"mark":{"type":"tick","size":3.3,"thickness":1.2,"color":"#333333","opacity":1,"yOffset":-8.85},"encoding":{"x":{"field":"ms","type":"quantitative","scale":{"domain":[-629.43,4293.37],"nice":false,"zero":false},"axis":null}}},
{"data":{"name":"majB"},"mark":{"type":"tick","size":6.5,"thickness":1.2,"color":"#333333","opacity":1,"yOffset":-7.25},"encoding":{"x":{"field":"ms","type":"quantitative","scale":{"domain":[-629.43,4293.37],"nice":false,"zero":false},"axis":null}}},
{"data":{"name":"labB"},"mark":{"type":"text","fontSize":8,"color":"#111111","align":"left","baseline":"middle","dx":-5.5,"dy":5.5},"encoding":{"x":{"field":"ms","type":"quantitative","scale":{"domain":[-629.43,4293.37],"nice":false,"zero":false},"axis":null},"text":{"field":"ms","type":"quantitative","format":"d"}}},
{"mark":{"type":"rule","color":"#cf6e73","strokeWidth":2.5,"opacity":0.85},"encoding":{"x":{"datum":3314,"type":"quantitative","scale":{"domain":[-629.43,4293.37],"nice":false,"zero":false},"axis":null}}},
{"data":{"name":"flagsB"},"mark":{"type":"point","shape":"M -0.45 -0.62 L 0 -1 L 0.45 -0.62 L 0.45 1 L -0.45 1 Z","size":400,"filled":true,"color":"#f4d07c","opacity":0.95},"encoding":{"x":{"field":"ms","type":"quantitative","scale":{"domain":[-629.43,4293.37],"nice":false,"zero":false},"axis":null}}}
]},
{"width":542,"height":36,"data":{"values":[{}]},"layer":[
{"mark":{"type":"rect","color":"#ececec","cornerRadiusBottomLeft":5},"encoding":{"x":{"datum":-0.45659,"type":"quantitative","scale":{"domain":[-0.896034,4.913183],"nice":false,"zero":false},"axis":null},"x2":{"datum":4.913183}}},
{"mark":{"type":"point","shape":"M -0.896 -0.2727 H 0.896 Q 1 -0.2727 1 -0.169 V 0.169 Q 1 0.2727 0.896 0.2727 H -0.896 Q -1 0.2727 -1 0.169 V -0.169 Q -1 -0.2727 -0.896 -0.2727 Z","size":5929,"filled":true,"fill":"#ffffff","stroke":"#c6c6c6","strokeWidth":0.8,"opacity":1,"yOffset":-2.5},"encoding":{"x":{"datum":0.0954,"type":"quantitative","scale":{"domain":[-0.896034,4.913183],"nice":false,"zero":false},"axis":null}}},
{"mark":{"type":"point","shape":"M 0.579 -0.2727 H 0.896 Q 1 -0.2727 1 -0.169 V 0.169 Q 1 0.2727 0.896 0.2727 H 0.579 Z","size":5929,"filled":true,"color":"#c9c9c9","opacity":1,"yOffset":-2.5},"encoding":{"x":{"datum":0.0954,"type":"quantitative","scale":{"domain":[-0.896034,4.913183],"nice":false,"zero":false},"axis":null}}},
{"mark":{"type":"point","shape":"M 0.719 -0.078 L 0.797 -0.156 L 0.875 -0.078 M 0.719 0.078 L 0.797 0.156 L 0.875 0.078","size":5929,"filled":false,"color":"#ffffff","strokeWidth":1.2,"opacity":1,"yOffset":-2.5},"encoding":{"x":{"datum":0.0954,"type":"quantitative","scale":{"domain":[-0.896034,4.913183],"nice":false,"zero":false},"axis":null}}},
{"mark":{"type":"text","text":"bubbles","align":"left","baseline":"middle","fontSize":10.5,"color":"#1a1a1a","dy":-2.5},"encoding":{"x":{"datum":-0.2294,"type":"quantitative","scale":{"domain":[-0.896034,4.913183],"nice":false,"zero":false},"axis":null}}},
{"mark":{"type":"point","shape":"M -0.72 -1 H 0.72 Q 1 -1 1 -0.72 V 0.72 Q 1 1 0.72 1 H -0.72 Q -1 1 -1 0.72 V -0.72 Q -1 -1 -0.72 -1 Z","size":196,"filled":true,"color":"#8d8d8d","opacity":1,"yOffset":-2},"encoding":{"x":{"datum":4.297,"type":"quantitative","scale":{"domain":[-0.896034,4.913183],"nice":false,"zero":false},"axis":null}}},
{"mark":{"type":"point","shape":"M -0.55 0 L -0.15 0.45 L 0.58 -0.55","size":196,"filled":false,"color":"#ffffff","strokeWidth":1.8,"strokeCap":"round","strokeJoin":"round","opacity":1,"yOffset":-2},"encoding":{"x":{"datum":4.297,"type":"quantitative","scale":{"domain":[-0.896034,4.913183],"nice":false,"zero":false},"axis":null}}},
{"mark":{"type":"text","text":"timeline","align":"left","baseline":"middle","fontSize":11,"color":"#1a1a1a","dy":-2},"encoding":{"x":{"datum":4.414,"type":"quantitative","scale":{"domain":[-0.896034,4.913183],"nice":false,"zero":false},"axis":null}}},
{"mark":{"type":"text","text":"(b)","align":"left","baseline":"middle","font":"Liberation Serif","fontSize":19,"color":"#000000","dy":13},"encoding":{"x":{"datum":-0.7846,"type":"quantitative","scale":{"domain":[-0.896034,4.913183],"nice":false,"zero":false},"axis":null}}}
]},
{"width":542,"height":1,"data":{"values":[{}]},"mark":{"type":"rect","color":"#c2c2c2"},"encoding":{"x":{"datum":-0.4245,"type":"quantitative","scale":{"domain":[-0.896034,4.913183],"nice":false,"zero":false},"axis":null},"x2":{"datum":4.913183}}}
]
}
